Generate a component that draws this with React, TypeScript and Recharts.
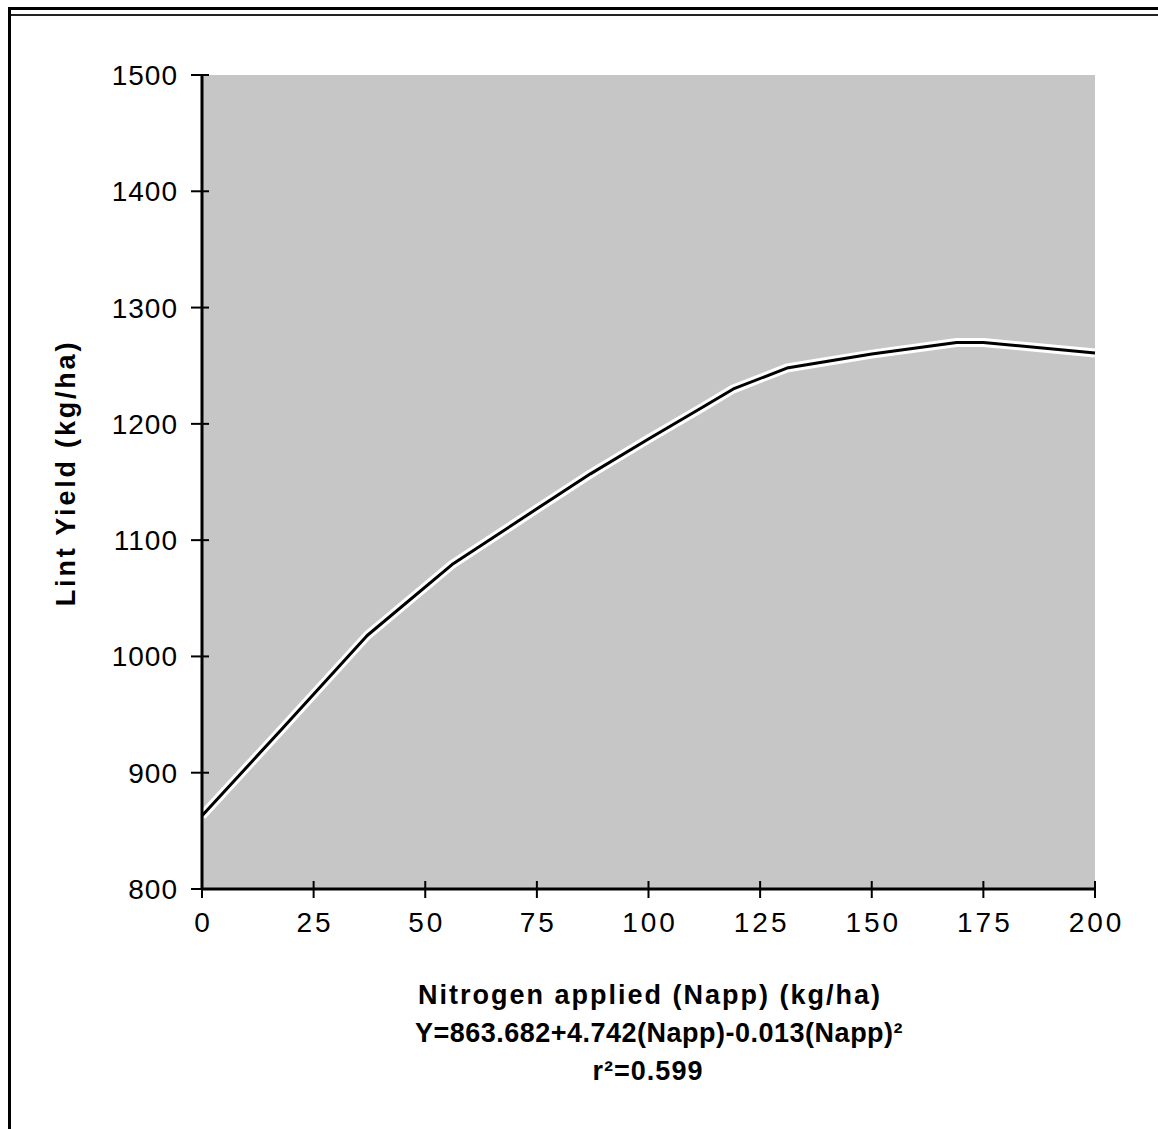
import { LineChart, Line, XAxis, YAxis, CartesianGrid } from 'recharts';

// values
const napp = [0, 18, 37, 56, 75, 87, 100, 112, 119, 131, 150, 169, 175, 200];
const lintYield = [863, 938, 1018, 1079, 1127, 1157, 1187, 1214, 1230, 1248, 1260, 1270, 1270, 1261];
const xTicks = [0, 25, 50, 75, 100, 125, 150, 175, 200];
const yTicks = [800, 900, 1000, 1100, 1200, 1300, 1400, 1500];

const data = napp.map((n, i) => ({ napp: n, yield: lintYield[i] }));

const FONT = '"Liberation Sans", Arial, sans-serif';
const X_TICK_SIZE = 9;
const X_TICK_MARGIN = 14;
const Y_TICK_SIZE = 10;
const Y_TICK_MARGIN = 14;

const XTick = (props: any) => {
  const { x, y, payload } = props;
  const axisY = y - X_TICK_SIZE - X_TICK_MARGIN;
  return (
    <g>
      <line x1={x} x2={x} y1={axisY - 8} y2={axisY + 9} stroke="#000" strokeWidth={2} />
      <text x={x + 1.5} y={y} dy={20} textAnchor="middle" fontFamily={FONT} fontSize={28} letterSpacing={3} fill="#000">
        {payload.value}
      </text>
    </g>
  );
};

const YTick = (props: any) => {
  const { x, y, payload } = props;
  const axisX = x + Y_TICK_SIZE + Y_TICK_MARGIN;
  return (
    <g>
      <line x1={axisX - 11} x2={axisX + 7} y1={y} y2={y} stroke="#000" strokeWidth={2} />
      <text x={x} y={y} dy={10} textAnchor="end" fontFamily={FONT} fontSize={28} letterSpacing={1} fill="#000">
        {payload.value}
      </text>
    </g>
  );
};

export default function App() {
  return (
    <div style={{ position: 'absolute', left: 0, top: 0, width: 1158, height: 1129, overflow: 'hidden', background: '#fff', fontFamily: FONT }}>
      {/* scanned frame */}
      <div style={{ position: 'absolute', left: 8, top: 7, width: 1170, height: 1140, borderTop: '3px solid #000', borderLeft: '3px solid #000' }} />
      <div style={{ position: 'absolute', left: 11, top: 14, width: 1160, borderTop: '2px solid #222' }} />

      <div style={{ position: 'absolute', left: 0, top: 0 }}>
        <LineChart width={1158} height={1129} data={data} margin={{ top: 75, right: 63, left: 122, bottom: 200 }}>
          <CartesianGrid horizontal={false} vertical={false} fill="#c6c6c6" />
          <XAxis
            dataKey="napp"
            type="number"
            domain={[0, 200]}
            ticks={xTicks}
            height={40}
            tickSize={X_TICK_SIZE}
            tickMargin={X_TICK_MARGIN}
            tickLine={false}
            tick={<XTick />}
            axisLine={{ stroke: '#000', strokeWidth: 3 }}
          />
          <XAxis xAxisId="top" orientation="top" type="number" domain={[0, 200]} height={0} tick={false} tickLine={false} axisLine={{ stroke: '#000', strokeWidth: 3 }} />
          <YAxis
            type="number"
            domain={[800, 1500]}
            ticks={yTicks}
            width={80}
            tickSize={Y_TICK_SIZE}
            tickMargin={Y_TICK_MARGIN}
            tickLine={false}
            tick={<YTick />}
            axisLine={{ stroke: '#000', strokeWidth: 3 }}
          />
          <YAxis yAxisId="right" orientation="right" type="number" domain={[800, 1500]} width={0} tick={false} tickLine={false} axisLine={{ stroke: '#000', strokeWidth: 3 }} />
          <Line dataKey="yield" stroke="#ffffff" strokeWidth={9} dot={false} isAnimationActive={false} strokeLinejoin="round" />
          <Line dataKey="yield" stroke="#000000" strokeWidth={3} dot={false} isAnimationActive={false} strokeLinejoin="round" />
        </LineChart>
      </div>

      <div
        style={{
          position: 'absolute',
          left: 66,
          top: 473,
          transform: 'translate(-50%, -50%) rotate(-90deg)',
          whiteSpace: 'nowrap',
          fontSize: 27,
          fontWeight: 700,
          letterSpacing: 2.8,
          color: '#000',
        }}
      >
        Lint Yield (kg/ha)
      </div>

      <div style={{ position: 'absolute', left: 0, width: 1300, top: 980, textAlign: 'center', fontWeight: 700, color: '#000', whiteSpace: 'nowrap' }}>
        <div style={{ position: 'absolute', left: 0, width: 1300, top: 0, fontSize: 27, letterSpacing: 2 }}>Nitrogen applied (Napp) (kg/ha)</div>
        <div style={{ position: 'absolute', left: 9, width: 1300, top: 38, fontSize: 27, letterSpacing: 0.5 }}>Y=863.682+4.742(Napp)-0.013(Napp)²</div>
        <div style={{ position: 'absolute', left: -2, width: 1300, top: 76, fontSize: 27, letterSpacing: 1 }}>r²=0.599</div>
      </div>
    </div>
  );
}
